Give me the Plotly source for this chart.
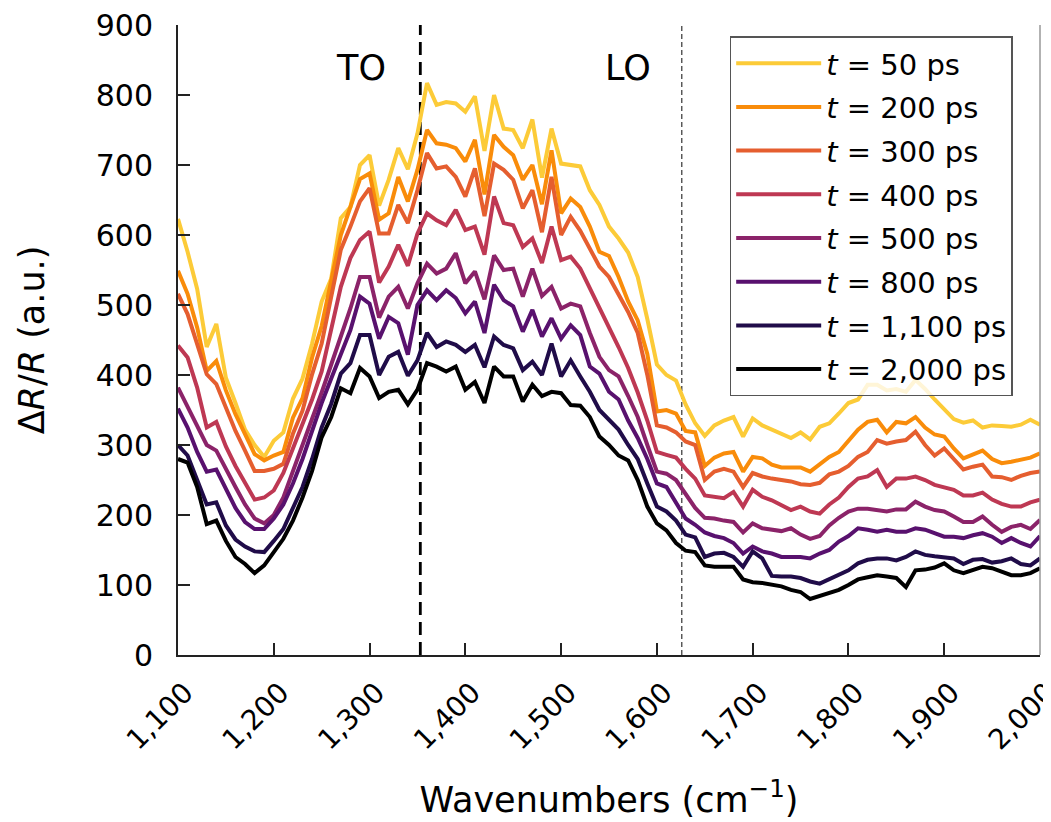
import plotly.graph_objects as go

# ---------------- data ----------------
WAVENUMBERS = list(range(1100, 2001, 10))

T50 = [623, 576, 523, 440, 473, 396, 360, 322, 300, 283, 306, 318, 366, 395, 445, 505,
       538, 624, 640, 700, 714, 642, 679, 724, 694, 745, 817, 786, 790, 788, 776, 798,
       720, 800, 752, 750, 724, 765, 682, 752, 702, 700, 698, 664, 643, 612, 595, 575,
       540, 480, 415, 400, 392, 358, 331, 313, 328, 335, 340, 312, 338, 328, 322, 316,
       310, 318, 308, 326, 331, 345, 360, 365, 386, 386, 378, 380, 376, 393, 380, 365,
       350, 337, 332, 335, 325, 328, 327, 326, 329, 336, 329]
T200 = [549, 516, 468, 406, 420, 378, 344, 316, 287, 278, 285, 290, 339, 367, 425, 470,
        535, 600, 640, 680, 688, 622, 631, 683, 648, 693, 750, 731, 729, 724, 705, 736,
        658, 743, 726, 714, 679, 700, 644, 721, 631, 652, 640, 612, 576, 570, 540, 505,
        478, 430, 348, 350, 345, 320, 318, 270, 282, 288, 290, 262, 283, 281, 272, 268,
        268, 268, 262, 273, 283, 290, 305, 322, 333, 336, 318, 333, 331, 340, 325, 315,
        312, 295, 281, 287, 292, 280, 274, 276, 279, 282, 288]
T300 = [516, 487, 444, 401, 387, 354, 320, 292, 263, 263, 266, 273, 316, 349, 401, 445,
        510, 579, 612, 648, 667, 602, 602, 643, 617, 664, 717, 695, 698, 683, 655, 695,
        627, 702, 693, 679, 638, 664, 604, 683, 600, 626, 606, 580, 555, 540, 515, 490,
        460, 400, 328, 325, 318, 305, 300, 250, 262, 266, 262, 240, 260, 255, 252, 250,
        248, 244, 243, 246, 258, 262, 270, 283, 290, 307, 302, 305, 307, 319, 300, 285,
        295, 280, 265, 269, 272, 255, 254, 250, 256, 260, 262]
T400 = [442, 425, 382, 325, 333, 298, 270, 245, 222, 225, 235, 260, 295, 330, 365, 405,
        465, 526, 567, 593, 605, 532, 555, 586, 556, 602, 631, 621, 614, 636, 607, 612,
        572, 655, 617, 614, 583, 595, 560, 612, 564, 569, 552, 524, 498, 469, 440, 410,
        375, 335, 290, 286, 282, 266, 252, 228, 226, 224, 233, 212, 236, 226, 221, 214,
        207, 212, 205, 202, 215, 225, 240, 252, 255, 264, 240, 252, 252, 255, 250, 243,
        240, 236, 228, 228, 232, 222, 216, 212, 212, 218, 222]
T500 = [382, 355, 330, 300, 292, 265, 240, 215, 195, 188, 200, 225, 262, 298, 338, 375,
        415, 455, 495, 540, 540, 482, 512, 526, 495, 531, 559, 545, 552, 574, 531, 548,
        508, 571, 550, 552, 512, 552, 513, 526, 495, 502, 498, 460, 426, 407, 398, 370,
        340, 300, 262, 259, 250, 230, 210, 196, 195, 192, 190, 175, 188, 181, 179, 177,
        181, 172, 166, 170, 185, 196, 205, 209, 209, 207, 205, 208, 208, 219, 212, 207,
        205, 198, 190, 190, 198, 186, 176, 183, 186, 180, 193]
T800 = [352, 325, 290, 262, 265, 237, 210, 190, 180, 180, 195, 215, 245, 280, 320, 360,
        395, 430, 464, 512, 502, 452, 483, 474, 429, 500, 521, 507, 521, 510, 488, 505,
        460, 529, 507, 498, 462, 493, 455, 481, 452, 471, 457, 412, 402, 376, 365, 335,
        310, 280, 245, 240, 218, 195, 186, 175, 170, 167, 160, 145, 155, 148, 145, 140,
        140, 140, 138, 145, 150, 162, 170, 181, 179, 176, 179, 176, 176, 181, 179, 174,
        169, 169, 167, 171, 174, 169, 160, 167, 160, 155, 170]
T1100 = [300, 285, 250, 215, 218, 185, 165, 155, 148, 147, 163, 180, 210, 240, 280, 325,
         359, 402, 417, 457, 457, 400, 426, 433, 399, 421, 460, 440, 448, 443, 433, 443,
         411, 455, 443, 438, 407, 419, 400, 445, 398, 421, 398, 376, 350, 335, 322, 300,
         280, 245, 212, 205, 192, 172, 168, 140, 145, 146, 140, 126, 148, 138, 113, 112,
         112, 110, 105, 102, 108, 115, 121, 131, 136, 138, 138, 135, 140, 148, 143, 141,
         140, 138, 130, 136, 137, 132, 134, 138, 130, 128, 138]
T2000 = [280, 275, 240, 187, 192, 163, 140, 130, 117, 128, 147, 166, 192, 225, 263, 311,
         340, 381, 374, 410, 398, 367, 376, 379, 358, 379, 417, 412, 405, 412, 379, 390,
         360, 412, 398, 398, 362, 386, 370, 376, 374, 357, 356, 340, 312, 300, 285, 278,
         250, 212, 188, 178, 160, 149, 147, 128, 126, 126, 126, 108, 104, 103, 100, 98,
         93, 90, 80, 84, 88, 93, 100, 108, 111, 114, 112, 110, 97, 121, 122, 125,
         131, 121, 117, 121, 126, 124, 119, 114, 114, 117, 124]

SERIES_NAMES = ["50 ps", "200 ps", "300 ps", "400 ps", "500 ps", "800 ps", "1,100 ps", "2,000 ps"]
SERIES_VALUES = [T50, T200, T300, T400, T500, T800, T1100, T2000]
COLORS = ["#FCCB38", "#F98C0A", "#E55E2F", "#BE3853", "#8B2369", "#58116E", "#200C49", "#000000"]

X_TICKS = list(range(1100, 2001, 100))
X_TICK_LABELS = ["1,100", "1,200", "1,300", "1,400", "1,500", "1,600", "1,700", "1,800", "1,900", "2,000"]
Y_TICKS = list(range(0, 901, 100))

TO_POS = 1353
LO_POS = 1626
TO_LABEL_POS = (1291, 838)
LO_LABEL_POS = (1570, 838)

FONT = "'DejaVu Sans', Inter, sans-serif"

# ---------------- figure ----------------
fig = go.Figure()
for i, (name, vals, col) in enumerate(zip(SERIES_NAMES, SERIES_VALUES, COLORS)):
    fig.add_trace(go.Scatter(
        x=WAVENUMBERS, y=vals, mode="lines",
        name="<i>t</i> = " + name,
        legendgroup="g%d" % i,
        line=dict(color=col, width=4),
    ))

fig.add_vline(x=TO_POS, line=dict(color="black", width=2.8, dash="13px,7px"), layer="below")
fig.add_vline(x=LO_POS, line=dict(color="#333333", width=1.2, dash="5px,3px"), layer="below")

# right frame line (light)
fig.add_shape(type="line", xref="paper", yref="paper", x0=1, x1=1, y0=0, y1=1,
              line=dict(color="#999999", width=1.5))

fig.add_annotation(x=TO_LABEL_POS[0], y=TO_LABEL_POS[1], text="TO", showarrow=False,
                   font=dict(size=35, color="black", family=FONT))
fig.add_annotation(x=LO_LABEL_POS[0], y=LO_LABEL_POS[1], text="LO", showarrow=False,
                   font=dict(size=35, color="black", family=FONT))

# the page body adds an 8px offset; margins compensate for it
fig.update_layout(
    width=1051, height=822,
    margin=dict(l=170, r=19, t=17, b=175),
    plot_bgcolor="white", paper_bgcolor="white",
    font=dict(family=FONT, size=28, color="black"),
    showlegend=True,
    legend=dict(
        x=0.640, y=0.982, xanchor="left", yanchor="top",
        bgcolor="rgba(255,255,255,0.8)", bordercolor="#555555", borderwidth=1.5,
        font=dict(size=29, family=FONT), tracegroupgap=3, itemwidth=85,
    ),
)

fig.update_xaxes(
    range=[1100, 2000], tickvals=X_TICKS, ticktext=X_TICK_LABELS, tickangle=-45,
    ticks="inside", ticklen=12, tickwidth=1.5, tickcolor="#222222",
    showline=True, linewidth=2, linecolor="#222222", mirror=False,
    showgrid=False, zeroline=False, tickfont=dict(size=28, family=FONT),
    automargin=False, ticklabelstandoff=8, ticklabelshift=7, ticklabeloverflow="allow",
    title=dict(text="Wavenumbers (cm<sup>−1</sup>)", font=dict(size=35, family=FONT), standoff=32),
)
fig.update_yaxes(
    range=[0, 900], tickvals=Y_TICKS,
    ticks="inside", ticklen=12, tickwidth=1.5, tickcolor="#222222",
    showline=True, linewidth=2, linecolor="#222222", mirror=False,
    showgrid=False, zeroline=False, tickfont=dict(size=30, family=FONT),
    automargin=False, ticklabelstandoff=17, ticklabeloverflow="allow",
    title=dict(text="Δ<i>R</i>/<i>R</i> (a.u.)", font=dict(size=35, family=FONT), standoff=40),
)

fig.write_html("out.html")
